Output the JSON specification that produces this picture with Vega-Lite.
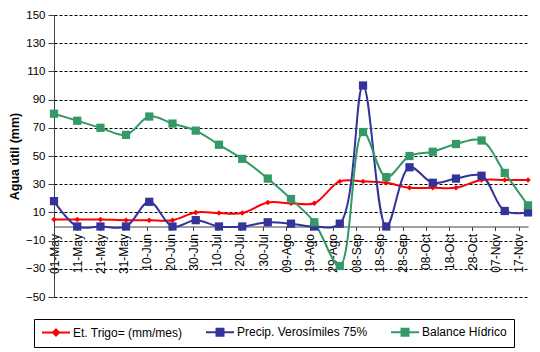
{
  "$schema": "https://vega.github.io/schema/vega-lite/v6.json",
  "width": 474,
  "height": 282,
  "autosize": {"type": "none"},
  "padding": {"left": 54, "top": 15, "right": 12, "bottom": 55},
  "background": "white",
  "config": {"font": "Liberation Sans", "view": {"stroke": null}},
  "data": {
    "values": [
      {"fecha": "2010-05-01", "serie": "Et. Trigo= (mm/mes)", "valor": 5},
      {"fecha": "2010-05-11", "serie": "Et. Trigo= (mm/mes)", "valor": 5},
      {"fecha": "2010-05-21", "serie": "Et. Trigo= (mm/mes)", "valor": 5},
      {"fecha": "2010-06-01", "serie": "Et. Trigo= (mm/mes)", "valor": 4.5},
      {"fecha": "2010-06-11", "serie": "Et. Trigo= (mm/mes)", "valor": 4.5},
      {"fecha": "2010-06-21", "serie": "Et. Trigo= (mm/mes)", "valor": 4.5},
      {"fecha": "2010-07-01", "serie": "Et. Trigo= (mm/mes)", "valor": 10},
      {"fecha": "2010-07-11", "serie": "Et. Trigo= (mm/mes)", "valor": 9.5},
      {"fecha": "2010-07-21", "serie": "Et. Trigo= (mm/mes)", "valor": 9.5},
      {"fecha": "2010-08-01", "serie": "Et. Trigo= (mm/mes)", "valor": 17},
      {"fecha": "2010-08-11", "serie": "Et. Trigo= (mm/mes)", "valor": 16.5},
      {"fecha": "2010-08-21", "serie": "Et. Trigo= (mm/mes)", "valor": 16.5},
      {"fecha": "2010-09-01", "serie": "Et. Trigo= (mm/mes)", "valor": 32},
      {"fecha": "2010-09-11", "serie": "Et. Trigo= (mm/mes)", "valor": 32},
      {"fecha": "2010-09-21", "serie": "Et. Trigo= (mm/mes)", "valor": 31},
      {"fecha": "2010-10-01", "serie": "Et. Trigo= (mm/mes)", "valor": 27.5},
      {"fecha": "2010-10-11", "serie": "Et. Trigo= (mm/mes)", "valor": 27.5},
      {"fecha": "2010-10-21", "serie": "Et. Trigo= (mm/mes)", "valor": 27.5},
      {"fecha": "2010-11-01", "serie": "Et. Trigo= (mm/mes)", "valor": 33},
      {"fecha": "2010-11-11", "serie": "Et. Trigo= (mm/mes)", "valor": 33},
      {"fecha": "2010-11-21", "serie": "Et. Trigo= (mm/mes)", "valor": 33},
      {"fecha": "2010-05-01", "serie": "Precip. Verosímiles 75%", "valor": 18},
      {"fecha": "2010-05-11", "serie": "Precip. Verosímiles 75%", "valor": 0},
      {"fecha": "2010-05-21", "serie": "Precip. Verosímiles 75%", "valor": 0},
      {"fecha": "2010-06-01", "serie": "Precip. Verosímiles 75%", "valor": 0},
      {"fecha": "2010-06-11", "serie": "Precip. Verosímiles 75%", "valor": 17.5},
      {"fecha": "2010-06-21", "serie": "Precip. Verosímiles 75%", "valor": 0},
      {"fecha": "2010-07-01", "serie": "Precip. Verosímiles 75%", "valor": 4.5},
      {"fecha": "2010-07-11", "serie": "Precip. Verosímiles 75%", "valor": 0},
      {"fecha": "2010-07-21", "serie": "Precip. Verosímiles 75%", "valor": 0},
      {"fecha": "2010-08-01", "serie": "Precip. Verosímiles 75%", "valor": 3},
      {"fecha": "2010-08-11", "serie": "Precip. Verosímiles 75%", "valor": 2},
      {"fecha": "2010-08-21", "serie": "Precip. Verosímiles 75%", "valor": 0},
      {"fecha": "2010-09-01", "serie": "Precip. Verosímiles 75%", "valor": 2},
      {"fecha": "2010-09-11", "serie": "Precip. Verosímiles 75%", "valor": 100},
      {"fecha": "2010-09-21", "serie": "Precip. Verosímiles 75%", "valor": 0},
      {"fecha": "2010-10-01", "serie": "Precip. Verosímiles 75%", "valor": 42},
      {"fecha": "2010-10-11", "serie": "Precip. Verosímiles 75%", "valor": 31},
      {"fecha": "2010-10-21", "serie": "Precip. Verosímiles 75%", "valor": 34},
      {"fecha": "2010-11-01", "serie": "Precip. Verosímiles 75%", "valor": 36},
      {"fecha": "2010-11-11", "serie": "Precip. Verosímiles 75%", "valor": 11},
      {"fecha": "2010-11-21", "serie": "Precip. Verosímiles 75%", "valor": 10},
      {"fecha": "2010-05-01", "serie": "Balance Hídrico", "valor": 80},
      {"fecha": "2010-05-11", "serie": "Balance Hídrico", "valor": 75},
      {"fecha": "2010-05-21", "serie": "Balance Hídrico", "valor": 70},
      {"fecha": "2010-06-01", "serie": "Balance Hídrico", "valor": 65},
      {"fecha": "2010-06-11", "serie": "Balance Hídrico", "valor": 78},
      {"fecha": "2010-06-21", "serie": "Balance Hídrico", "valor": 73},
      {"fecha": "2010-07-01", "serie": "Balance Hídrico", "valor": 68},
      {"fecha": "2010-07-11", "serie": "Balance Hídrico", "valor": 58},
      {"fecha": "2010-07-21", "serie": "Balance Hídrico", "valor": 48},
      {"fecha": "2010-08-01", "serie": "Balance Hídrico", "valor": 34},
      {"fecha": "2010-08-11", "serie": "Balance Hídrico", "valor": 19.5},
      {"fecha": "2010-08-21", "serie": "Balance Hídrico", "valor": 3},
      {"fecha": "2010-09-01", "serie": "Balance Hídrico", "valor": -28},
      {"fecha": "2010-09-11", "serie": "Balance Hídrico", "valor": 67},
      {"fecha": "2010-09-21", "serie": "Balance Hídrico", "valor": 35},
      {"fecha": "2010-10-01", "serie": "Balance Hídrico", "valor": 50},
      {"fecha": "2010-10-11", "serie": "Balance Hídrico", "valor": 53},
      {"fecha": "2010-10-21", "serie": "Balance Hídrico", "valor": 58.5},
      {"fecha": "2010-11-01", "serie": "Balance Hídrico", "valor": 61},
      {"fecha": "2010-11-11", "serie": "Balance Hídrico", "valor": 38},
      {"fecha": "2010-11-21", "serie": "Balance Hídrico", "valor": 15}
    ]
  },
  "encoding": {
    "x": {
      "field": "fecha",
      "type": "temporal",
      "scale": {
        "type": "utc",
        "domain": [
          {"utc": true, "year": 2010, "month": 5, "date": 1},
          {"utc": true, "year": 2010, "month": 11, "date": 21}
        ]
      },
      "axis": {
        "orient": "bottom",
        "offset": -70.5,
        "title": null,
        "grid": false,
        "values": [
          {"utc": true, "year": 2010, "month": 5, "date": 1},
          {"utc": true, "year": 2010, "month": 5, "date": 11},
          {"utc": true, "year": 2010, "month": 5, "date": 21},
          {"utc": true, "year": 2010, "month": 5, "date": 31},
          {"utc": true, "year": 2010, "month": 6, "date": 10},
          {"utc": true, "year": 2010, "month": 6, "date": 20},
          {"utc": true, "year": 2010, "month": 6, "date": 30},
          {"utc": true, "year": 2010, "month": 7, "date": 10},
          {"utc": true, "year": 2010, "month": 7, "date": 20},
          {"utc": true, "year": 2010, "month": 7, "date": 30},
          {"utc": true, "year": 2010, "month": 8, "date": 9},
          {"utc": true, "year": 2010, "month": 8, "date": 19},
          {"utc": true, "year": 2010, "month": 8, "date": 29},
          {"utc": true, "year": 2010, "month": 9, "date": 8},
          {"utc": true, "year": 2010, "month": 9, "date": 18},
          {"utc": true, "year": 2010, "month": 9, "date": 28},
          {"utc": true, "year": 2010, "month": 10, "date": 8},
          {"utc": true, "year": 2010, "month": 10, "date": 18},
          {"utc": true, "year": 2010, "month": 10, "date": 28},
          {"utc": true, "year": 2010, "month": 11, "date": 7},
          {"utc": true, "year": 2010, "month": 11, "date": 17}
        ],
        "labelExpr": "replace(utcFormat(datum.value, '%d-%b'), 'Aug', 'Ago')",
        "labelAngle": 270,
        "labelFontSize": 12,
        "labelColor": "black",
        "labelPadding": 3,
        "labelOverlap": false,
        "labelFlush": false,
        "labelBound": false,
        "tickSize": 4,
        "tickColor": "#404040",
        "domainColor": "#404040",
        "domainWidth": 1
      }
    },
    "y": {
      "field": "valor",
      "type": "quantitative",
      "scale": {"domain": [-50, 150], "nice": false, "zero": false},
      "axis": {
        "values": [-50, -30, -10, 10, 30, 50, 70, 90, 110, 130, 150],
        "title": "Agua útil (mm)",
        "titleFontSize": 12.5,
        "titleFontWeight": "bold",
        "titleColor": "black",
        "titlePadding": 4,
        "labelFontSize": 11.5,
        "labelColor": "black",
        "labelPadding": 3,
        "tickSize": 6,
        "tickColor": "#404040",
        "domainColor": "#404040",
        "grid": true,
        "gridColor": "black",
        "gridDash": [3, 2],
        "gridWidth": 1,
        "gridOpacity": 1
      }
    },
    "color": {
      "field": "serie",
      "type": "nominal",
      "scale": {
        "domain": ["Et. Trigo= (mm/mes)", "Precip. Verosímiles 75%", "Balance Hídrico"],
        "range": ["#FF0000", "#333399", "#339966"]
      },
      "legend": {
        "orient": "none",
        "legendX": -20,
        "legendY": 304,
        "direction": "horizontal",
        "title": null,
        "strokeColor": "black",
        "fillColor": "white",
        "padding": 7,
        "labelFontSize": 12,
        "labelColor": "black",
        "labelOffset": 20,
        "labelLimit": 0,
        "columnPadding": 19,
        "symbolSize": 100,
        "symbolStrokeWidth": 2,
        "symbolType": "M-1,0H4.6M1.1,-0.7H2.5V0.7H1.1Z",
        "encode": {
          "symbols": {
            "update": {
              "shape": {"signal": "datum.value === 'Et. Trigo= (mm/mes)' ? 'M-1,0H4.6M1.8,-0.6L2.4,0L1.8,0.6L1.2,0Z' : 'M-1,0H4.6M1.1,-0.7H2.5V0.7H1.1Z'"},
              "stroke": {"signal": "scale('color', datum.value)"},
              "fill": {"signal": "scale('color', datum.value)"},
              "strokeWidth": {"value": 2},
              "opacity": {"value": 1}
            }
          }
        }
      }
    }
  },
  "layer": [
    {
      "mark": {"type": "line", "interpolate": "catmull-rom", "strokeWidth": 2}
    },
    {
      "transform": [{"filter": "datum.serie === 'Et. Trigo= (mm/mes)'"}],
      "mark": {"type": "point", "filled": true, "opacity": 1, "shape": "diamond", "size": 30}
    },
    {
      "transform": [{"filter": "datum.serie !== 'Et. Trigo= (mm/mes)'"}],
      "mark": {"type": "point", "filled": true, "opacity": 1, "shape": "square", "size": 68}
    }
  ]
}
